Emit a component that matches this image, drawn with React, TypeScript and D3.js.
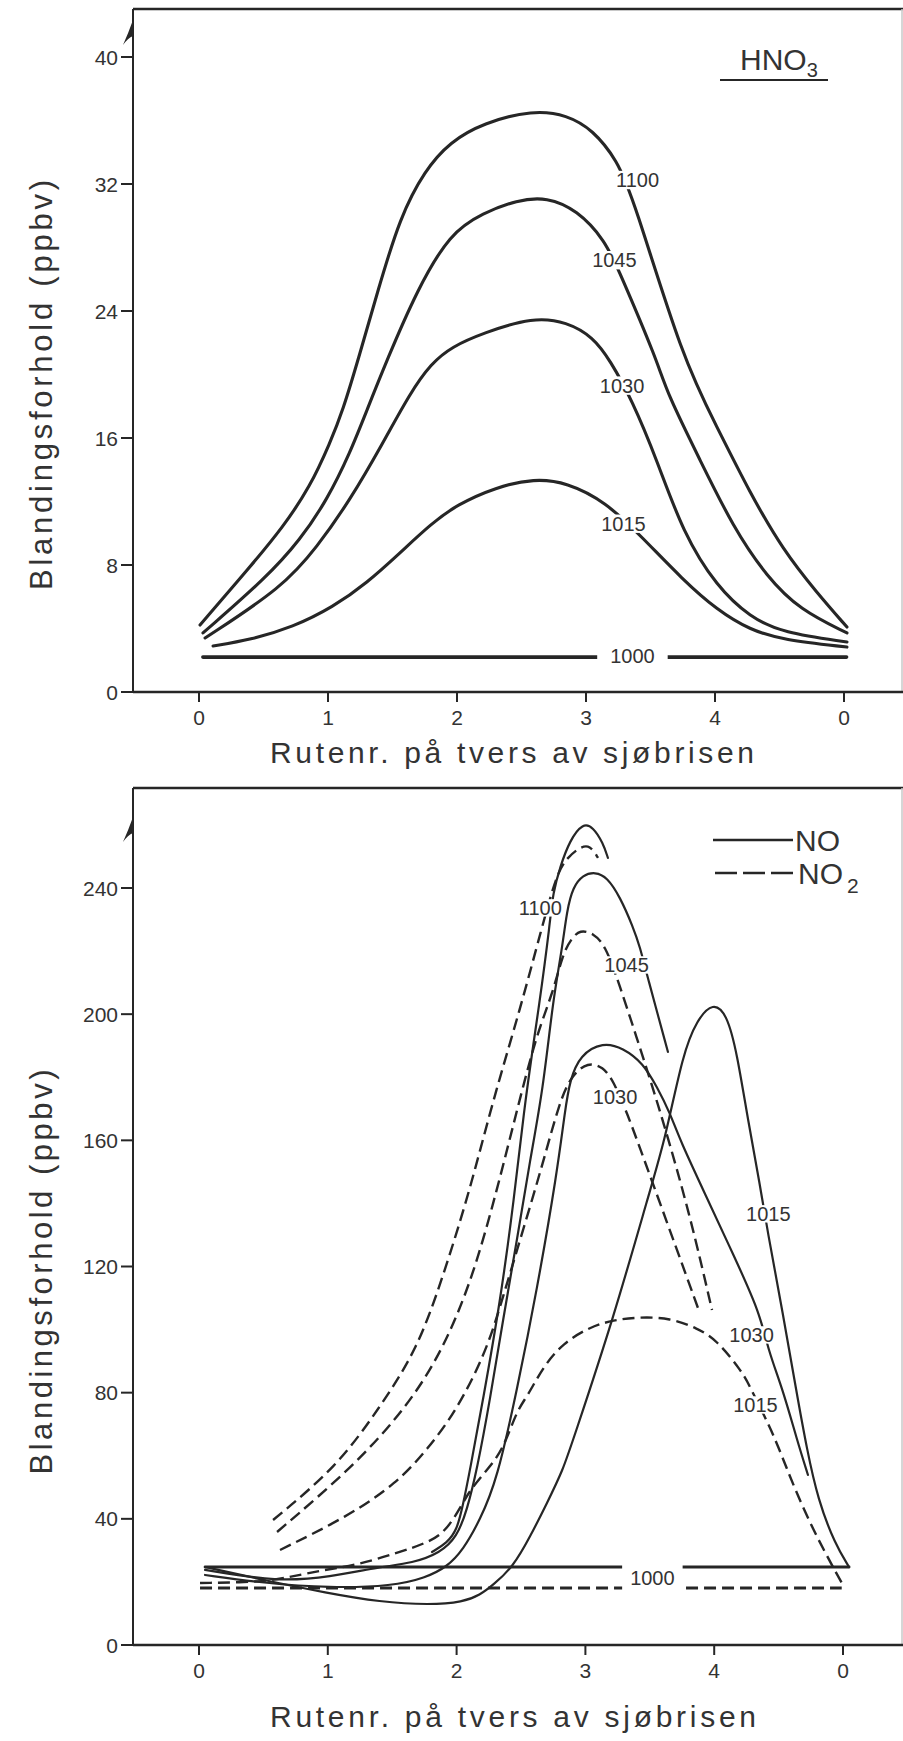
import React from 'react';
import * as d3 from 'd3';

type Pt = [number, number];

// ---------- axis / text data ----------
const xTickValues = [0, 1, 2, 3, 4, 5];
const xTickLabels = ['0', '1', '2', '3', '4', '0'];
const hno3YTicks = [0, 8, 16, 24, 32, 40];
const noxYTicks = [0, 40, 80, 120, 160, 200, 240];
const xTitle = 'Rutenr. på tvers av sjøbrisen';
const yTitle = 'Blandingsforhold (ppbv)';

// ---------- HNO3 (upper panel) ----------
const hno3_1000: Pt[] = [[0.03, 2.2], [5.02, 2.2]];
const hno3_1015: Pt[] = [[0.109, 2.9], [0.395, 3.28], [0.729, 4.09], [1.039, 5.35], [1.302, 6.87], [1.558, 8.76], [1.8, 10.6], [2.0, 11.8], [2.3, 12.9], [2.6, 13.45], [2.85, 13.2], [3.15, 12.0], [3.434, 9.76], [3.752, 7.06], [4.016, 5.17], [4.271, 3.91], [4.527, 3.28], [5.023, 2.83]];
const hno3_1030: Pt[] = [[0.047, 3.4], [0.651, 6.61], [0.915, 9.13], [1.171, 12.09], [1.426, 15.69], [1.636, 18.83], [1.8, 20.7], [1.96, 21.75], [2.202, 22.61], [2.589, 23.62], [2.853, 23.31], [3.054, 22.36], [3.186, 20.91], [3.357, 18.39], [3.55, 14.61], [3.752, 10.02], [4.016, 6.61], [4.271, 4.72], [4.527, 3.72], [5.023, 3.15]];
const hno3_1045: Pt[] = [[0.031, 3.72], [0.527, 7.24], [0.783, 9.57], [0.992, 12.09], [1.171, 15.06], [1.302, 17.76], [1.457, 20.91], [1.69, 25.32], [1.946, 28.91], [2.202, 30.17], [2.465, 30.99], [2.698, 31.18], [2.93, 30.36], [3.147, 28.47], [3.264, 26.39], [3.55, 20.91], [3.628, 18.83], [3.884, 14.61], [4.14, 10.39], [4.403, 7.24], [4.659, 5.17], [5.023, 3.72]];
const hno3_1100: Pt[] = [[0.008, 4.22], [0.395, 7.87], [0.651, 10.39], [0.86, 12.91], [1.016, 15.69], [1.116, 17.76], [1.233, 20.91], [1.388, 25.32], [1.558, 29.92], [1.752, 32.88], [1.946, 34.65], [2.202, 35.84], [2.589, 36.66], [2.853, 36.35], [3.054, 35.4], [3.24, 33.51], [3.364, 31.18], [3.752, 20.91], [4.016, 16.69], [4.271, 12.54], [4.527, 8.94], [4.791, 6.24], [5.023, 4.09]];

const hno3Series = [
  { time: '1000', points: hno3_1000 },
  { time: '1015', points: hno3_1015 },
  { time: '1030', points: hno3_1030 },
  { time: '1045', points: hno3_1045 },
  { time: '1100', points: hno3_1100 },
];
const hno3Labels = [
  { text: '1100', x: 3.4, y: 32.25 },
  { text: '1045', x: 3.22, y: 27.2 },
  { text: '1030', x: 3.28, y: 19.3 },
  { text: '1015', x: 3.29, y: 10.6 },
  { text: '1000', x: 3.36, y: 2.27 },
];

// ---------- NO (solid) lower panel ----------
const no_1000: Pt[] = [[0.047, 24.73], [5.047, 24.73]];
const no_1015: Pt[] = [[0.047, 24.73], [0.497, 20.61], [0.994, 16.49], [1.405, 13.63], [1.793, 12.68], [2.05, 13.63], [2.182, 15.85], [2.283, 19.02], [2.438, 24.73], [2.57, 34.24], [2.702, 45.02], [2.826, 55.48], [2.904, 65.0], [3.214, 103.04], [3.502, 144.26], [3.618, 160.11], [3.758, 187.7], [3.866, 198.16], [3.991, 203.87], [4.099, 200.0], [4.177, 187.7], [4.262, 166.4], [4.356, 145.8], [4.41, 132.0], [4.534, 105.0], [4.64, 80.0], [4.72, 62.0], [4.806, 46.0], [4.938, 32.0], [5.047, 24.73]];
const no_1030: Pt[] = [[0.047, 22.2], [0.497, 19.66], [1.017, 18.07], [1.506, 18.71], [1.755, 21.24], [1.925, 24.73], [2.05, 30.12], [2.182, 39.63], [2.314, 52.31], [2.469, 80.85], [2.624, 112.56], [2.78, 149.65], [2.842, 169.6], [2.88, 179.1], [2.958, 187.1], [3.137, 191.19], [3.292, 189.28], [3.447, 184.53], [3.556, 176.92], [3.657, 168.67], [3.734, 160.11], [3.929, 143.0], [4.146, 124.0], [4.356, 105.26], [4.418, 93.53], [4.534, 80.85], [4.643, 65.0], [4.728, 53.9]];
const no_1045: Pt[] = [[0.047, 23.8], [0.613, 20.0], [1.017, 21.6], [1.405, 24.73], [1.661, 26.0], [1.871, 29.17], [2.003, 34.24], [2.081, 42.8], [2.158, 55.48], [2.259, 77.68], [2.36, 103.04], [2.469, 128.41], [2.57, 153.77], [2.671, 175.97], [2.748, 204.5], [2.818, 220.36], [2.857, 233.04], [2.904, 240.33], [2.981, 244.13], [3.075, 245.09], [3.168, 243.5], [3.269, 237.16], [3.37, 227.65], [3.424, 221.31], [3.478, 212.43], [3.641, 188.02]];
const no_1100: Pt[] = [[1.809, 29.49], [1.925, 32.34], [2.003, 36.46], [2.05, 44.39], [2.104, 55.48], [2.205, 77.68], [2.337, 108.43], [2.446, 141.09], [2.531, 172.8], [2.648, 204.5], [2.725, 228.92], [2.748, 238.43], [2.803, 246.67], [2.88, 255.23], [2.981, 260.62], [3.059, 259.35], [3.137, 254.28], [3.175, 249.52]];

// ---------- NO2 (dashed) lower panel ----------
const no2_1000: Pt[] = [[0.008, 18.07], [4.99, 18.07]];
const no2_1015: Pt[] = [[0.008, 19.66], [0.497, 19.97], [0.707, 21.56], [0.963, 23.78], [1.227, 25.36], [1.537, 29.17], [1.793, 32.66], [1.925, 36.46], [2.05, 45.02], [2.104, 49.14], [2.236, 55.48], [2.36, 61.83], [2.469, 74.51], [2.547, 78.63], [2.671, 88.14], [2.826, 95.75], [3.036, 100.82], [3.214, 103.04], [3.424, 104.0], [3.657, 103.68], [3.866, 100.51], [4.022, 96.7], [4.224, 86.24], [4.278, 81.8], [4.394, 72.29], [4.488, 64.05], [4.627, 49.14], [4.806, 33.29], [5.008, 18.39]];
const no2_1030: Pt[] = [[0.629, 30.12], [1.149, 40.58], [1.537, 51.36], [1.77, 61.83], [2.003, 74.51], [2.236, 93.53], [2.36, 110.34], [2.516, 131.58], [2.671, 152.82], [2.803, 172.8], [2.896, 180.72], [3.02, 184.84], [3.137, 183.26], [3.214, 179.14], [3.323, 168.67], [3.401, 160.11], [3.641, 133.16], [3.874, 106.85]];
const no2_1045: Pt[] = [[0.606, 35.83], [1.196, 56.44], [1.615, 75.46], [1.894, 93.53], [2.127, 116.68], [2.314, 144.26], [2.469, 169.63], [2.624, 194.04], [2.748, 206.72], [2.826, 219.4], [2.896, 224.16], [2.958, 226.7], [3.059, 225.75], [3.152, 221.94], [3.253, 210.84], [3.447, 186.43], [3.602, 166.46], [3.812, 136.33], [3.983, 106.21]];
const no2_1100: Pt[] = [[0.575, 39.63], [1.071, 56.44], [1.405, 75.46], [1.693, 93.53], [1.894, 116.68], [2.104, 144.26], [2.283, 172.8], [2.492, 201.33], [2.663, 227.65], [2.78, 244.77], [2.857, 249.52], [2.958, 253.01], [3.036, 253.65], [3.098, 249.52]];

const noSeries = [
  { time: '1000', points: no_1000 },
  { time: '1015', points: no_1015 },
  { time: '1030', points: no_1030 },
  { time: '1045', points: no_1045 },
  { time: '1100', points: no_1100 },
];
const no2Series = [
  { time: '1000', points: no2_1000 },
  { time: '1015', points: no2_1015 },
  { time: '1030', points: no2_1030 },
  { time: '1045', points: no2_1045 },
  { time: '1100', points: no2_1100 },
];
const noxLabels = [
  { text: '1100', x: 2.65, y: 233.7 },
  { text: '1045', x: 3.32, y: 215.6 },
  { text: '1030', x: 3.23, y: 173.7 },
  { text: '1015', x: 4.42, y: 136.7 },
  { text: '1030', x: 4.29, y: 98.3 },
  { text: '1015', x: 4.32, y: 76.1 },
  { text: '1000', x: 3.52, y: 21.2 },
];

// ---------- styling ----------
const FONT = "'Liberation Sans', Arial, Helvetica, sans-serif";
const INK = '#262626';
const TXT = '#333';

type Scale = d3.ScaleLinear<number, number>;

function Frame(props: {
  x: Scale; y: Scale; yTicks: number[]; top: number; axisX: number; right: number; arrowTip: number;
}) {
  const { x, y, yTicks, top, axisX, right, arrowTip } = props;
  const y0 = y(0);
  return (
    <g>
      <line x1={axisX} y1={top} x2={right} y2={top} stroke={INK} strokeWidth={2.6} />
      <line x1={right - 1} y1={top} x2={right - 1} y2={y0} stroke="#c8c8c8" strokeWidth={1.5} />
      <line x1={axisX} y1={top} x2={axisX} y2={y0} stroke={INK} strokeWidth={2} />
      <line x1={axisX} y1={y0} x2={right} y2={y0} stroke={INK} strokeWidth={2.6} />
      <path
        d={`M${axisX},${arrowTip} Q${axisX - 5},${arrowTip + 14} ${axisX - 10},${arrowTip + 25} Q${axisX - 5},${arrowTip + 18} ${axisX},${arrowTip + 16} Z`}
        fill={INK}
      />
      {yTicks.map((t) => (
        <g key={'y' + t}>
          <line x1={axisX - 12} y1={y(t)} x2={axisX} y2={y(t)} stroke={INK} strokeWidth={2} />
          <text x={axisX - 15} y={y(t)} dy="0.36em" textAnchor="end" fontSize={21} fill={TXT} fontFamily={FONT}>
            {t}
          </text>
        </g>
      ))}
      {xTickValues.map((t, i) => (
        <g key={'x' + t}>
          <line x1={x(t)} y1={y0} x2={x(t)} y2={y0 + 10} stroke={INK} strokeWidth={2} />
          <text x={x(t)} y={y0 + 33} textAnchor="middle" fontSize={21} fill={TXT} fontFamily={FONT}>
            {xTickLabels[i]}
          </text>
        </g>
      ))}
    </g>
  );
}

function Label(props: { x: number; y: number; text: string; padX: number; padY: number }) {
  const { x, y, text, padX, padY } = props;
  const fs = 20;
  const w = text.length * fs * 0.556;
  const h = fs * 0.72;
  return (
    <g>
      <rect x={x - w / 2 - padX} y={y - h / 2 - padY} width={w + 2 * padX} height={h + 2 * padY} fill="#fff" />
      <text x={x} y={y} dy="0.36em" textAnchor="middle" fontSize={fs} fill={TXT} fontFamily={FONT}>
        {text}
      </text>
    </g>
  );
}

export default function App() {
  const xT = d3.scaleLinear().domain([0, 5]).range([199, 844]);
  const yT = d3.scaleLinear().domain([0, 40]).range([692, 57]);
  const xB = d3.scaleLinear().domain([0, 5]).range([199, 843]);
  const yB = d3.scaleLinear().domain([0, 240]).range([1645, 888]);

  const curve = d3.curveBasis;
  const lineT = d3.line<Pt>().x((d) => xT(d[0])).y((d) => yT(d[1])).curve(curve);
  const lineB = d3.line<Pt>().x((d) => xB(d[0])).y((d) => yB(d[1])).curve(curve);

  const axisX = 133;
  const right = 903;

  return (
    <svg
      width={903}
      height={1741}
      viewBox="0 0 903 1741"
      style={{ position: 'absolute', left: 0, top: 0, background: '#fff' }}
      fontFamily={FONT}
    >
      <rect x={0} y={0} width={903} height={1741} fill="#fff" />

      {/* ---------------- upper panel: HNO3 ---------------- */}
      <Frame x={xT} y={yT} yTicks={hno3YTicks} top={9} axisX={axisX} right={right} arrowTip={20} />
      {hno3Series.map((s) => (
        <path
          key={'h' + s.time}
          d={lineT(s.points) || ''}
          fill="none"
          stroke={INK}
          strokeWidth={s.time === '1000' ? 3.6 : 3.1}
          strokeLinecap="round"
        />
      ))}
      {hno3Labels.map((l, i) => (
        <Label key={'hl' + i} x={xT(l.x)} y={yT(l.y)} text={l.text} padX={l.text === '1000' ? 13 : 3} padY={l.text === '1000' ? 4 : 2} />
      ))}
      <text x={740} y={70} fontSize={30} fill={TXT} fontFamily={FONT}>
        HNO<tspan fontSize={20} dy={7}>3</tspan>
      </text>
      <line x1={720} y1={80} x2={828} y2={80} stroke={INK} strokeWidth={2} />
      <text x={270} y={763} fontSize={30} fill={TXT} fontFamily={FONT} textLength={484} lengthAdjust="spacing">
        {xTitle}
      </text>
      <text
        transform="translate(52,385) rotate(-90)"
        textAnchor="middle"
        fontSize={31}
        fill={TXT}
        fontFamily={FONT}
        textLength={410}
        lengthAdjust="spacing"
      >
        {yTitle}
      </text>

      {/* ---------------- lower panel: NO / NO2 ---------------- */}
      <Frame x={xB} y={yB} yTicks={noxYTicks} top={788} axisX={axisX} right={right} arrowTip={817} />
      {no2Series.map((s) => (
        <path
          key={'d' + s.time}
          d={lineB(s.points) || ''}
          fill="none"
          stroke={INK}
          strokeWidth={s.time === '1000' ? 2.8 : 2.4}
          strokeDasharray="12,6"
        />
      ))}
      {noSeries.map((s) => (
        <path
          key={'s' + s.time}
          d={lineB(s.points) || ''}
          fill="none"
          stroke={INK}
          strokeWidth={s.time === '1000' ? 2.8 : 2.2}
          strokeLinecap="round"
        />
      ))}
      {noxLabels.map((l, i) => (
        <Label key={'nl' + i} x={xB(l.x)} y={yB(l.y)} text={l.text} padX={l.text === '1000' ? 8 : 2.5} padY={l.text === '1000' ? 9 : 1.5} />
      ))}
      <line x1={713} y1={840} x2={793} y2={840} stroke={INK} strokeWidth={2.4} />
      <text x={795} y={851} fontSize={30} fill={TXT} fontFamily={FONT}>NO</text>
      <line x1={715} y1={873} x2={793} y2={873} stroke={INK} strokeWidth={2.6} strokeDasharray="22,6" />
      <text x={798} y={884} fontSize={30} fill={TXT} fontFamily={FONT}>
        NO<tspan fontSize={21} dx={4} dy={9}>2</tspan>
      </text>
      <text x={270} y={1727} fontSize={30} fill={TXT} fontFamily={FONT} textLength={486} lengthAdjust="spacing">
        {xTitle}
      </text>
      <text
        transform="translate(52,1272) rotate(-90)"
        textAnchor="middle"
        fontSize={31}
        fill={TXT}
        fontFamily={FONT}
        textLength={405}
        lengthAdjust="spacing"
      >
        {yTitle}
      </text>
    </svg>
  );
}
